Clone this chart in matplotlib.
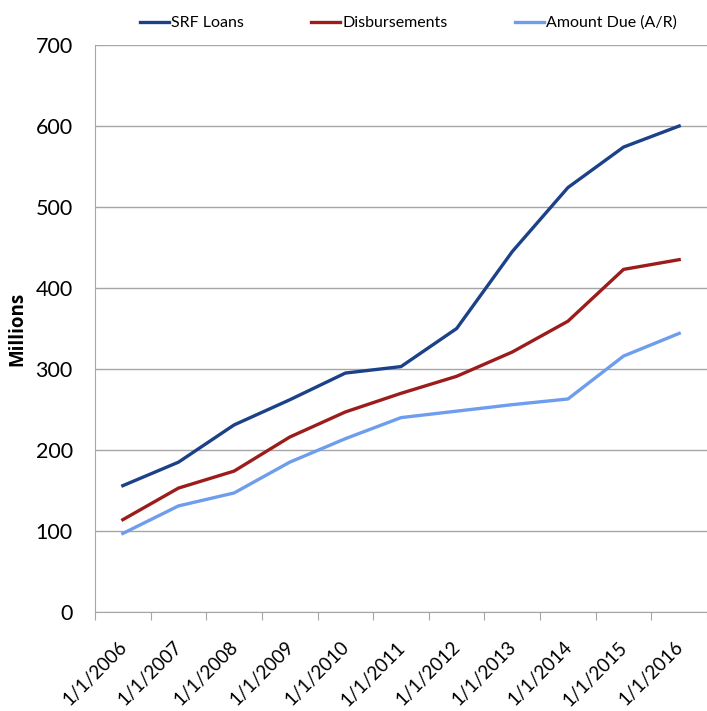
import matplotlib
matplotlib.use("Agg")
import matplotlib.pyplot as plt
import matplotlib.transforms as mtransforms
import numpy as np

categories = ["1/1/2006", "1/1/2007", "1/1/2008", "1/1/2009", "1/1/2010", "1/1/2011",
              "1/1/2012", "1/1/2013", "1/1/2014", "1/1/2015", "1/1/2016"]
srf_loans = [156, 185, 231, 262, 295, 303, 350, 445, 524, 574, 600]
disbursements = [114, 153, 174, 216, 247, 270, 291, 321, 359, 423, 435]
amount_due = [97, 131, 147, 185, 214, 240, 248, 256, 263, 316, 344]
y_ticks = [0, 100, 200, 300, 400, 500, 600, 700]

plt.rcParams['font.family'] = ['Lato', 'DejaVu Sans']

fig = plt.figure(figsize=(7.07, 7.11), dpi=100)
ax = fig.add_axes([0.1344, 0.1392, 0.8656, 0.7975])

x = np.arange(len(categories))
l1, = ax.plot(x, srf_loans, color="#1b4189", lw=2.4, label="SRF Loans")
l2, = ax.plot(x, disbursements, color="#9c1c1c", lw=2.4, label="Disbursements")
l3, = ax.plot(x, amount_due, color="#6f9ded", lw=2.4, label="Amount Due (A/R)")

ax.set_xlim(-0.5, len(categories) - 0.5)
ax.set_ylim(0, 700)
ax.set_yticks(y_ticks)
ax.tick_params(axis='y', length=0, labelsize=15.5, pad=16)
ax.yaxis.grid(True, color="#a6a6a6", lw=1)
ax.set_axisbelow(True)

# category ticks sit between the points
ax.set_xticks(np.arange(len(categories) + 1) - 0.5, minor=False)
ax.set_xticklabels([])
ax.tick_params(axis='x', length=6, color="#a6a6a6")
ax.set_xticks(x, minor=True)
ax.set_xticklabels(categories, minor=True, rotation=45, ha='right',
                   rotation_mode='anchor', fontsize=13.5)
ax.tick_params(axis='x', which='minor', length=0, pad=19)
shift = mtransforms.ScaledTranslation(-5 / 100, 0, fig.dpi_scale_trans)
for lbl in ax.get_xticklabels(minor=True):
    lbl.set_transform(lbl.get_transform() + shift)

for s in ["top", "right"]:
    ax.spines[s].set_visible(False)
for s in ["left", "bottom"]:
    ax.spines[s].set_color("#a6a6a6")

ax.set_ylabel("Millions", fontsize=13.5, fontweight='bold', labelpad=6,
              family=['Open Sans', 'DejaVu Sans'])

fig.legend(handles=[l1, l2, l3], loc='upper center', bbox_to_anchor=(0.578, 0.998),
           ncol=3, frameon=False, fontsize=11.5, handlelength=1.8,
           handletextpad=0.15, columnspacing=4.2)

fig.savefig("out.png", dpi=100)
